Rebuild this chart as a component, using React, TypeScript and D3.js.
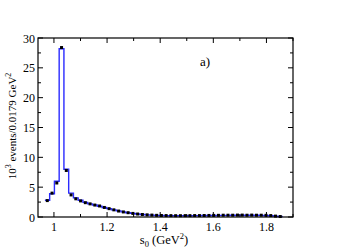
import React from "react";
import * as d3 from "d3";

// bin layout
const binStart = 0.966;
const binWidth = 0.0179;

// measured data (10^3 events per bin)
const dataValues = [
  2.75, 4.0, 5.7, 28.4, 7.8, 3.7, 3.05, 2.7, 2.4, 2.2,
  2.0, 1.85, 1.6, 1.4, 1.2, 1.0, 0.85, 0.72, 0.6, 0.5,
  0.42, 0.36, 0.32, 0.28, 0.25, 0.24, 0.23, 0.22, 0.22, 0.23,
  0.23, 0.24, 0.24, 0.25, 0.26, 0.27, 0.28, 0.3, 0.3, 0.3,
  0.32, 0.32, 0.3, 0.32, 0.3, 0.3, 0.28, 0.24, 0.15, 0.08,
];

// fitted histogram (blue)
const fitValues = [
  2.8, 3.9, 6.0, 28.2, 8.0, 4.0, 3.2, 2.8, 2.45, 2.2,
  2.0, 1.8, 1.6, 1.4, 1.2, 1.02, 0.86, 0.72, 0.6, 0.5,
  0.42, 0.36, 0.31, 0.27, 0.25, 0.23, 0.22, 0.22, 0.22, 0.22,
  0.22, 0.23, 0.23, 0.24, 0.25, 0.26, 0.27, 0.28, 0.28, 0.29,
  0.3, 0.3, 0.3, 0.3, 0.29, 0.28, 0.26, 0.22, 0.15, 0.08,
];

const xMajorTicks = [1, 1.2, 1.4, 1.6, 1.8];
const xMinorTicks = [1.1, 1.3, 1.5, 1.7, 1.9];
const yMajorTicks = [0, 5, 10, 15, 20, 25, 30];
const yMinorTicks = [2.5, 7.5, 12.5, 17.5, 22.5, 27.5];

const W = 351;
const H = 248;
const L = 38, R = 293, T = 38, B = 217;
const font = "'Liberation Serif', 'Times New Roman', serif";

export default function App() {
  const x = d3.scaleLinear().domain([0.94, 1.9]).range([L, R]);
  const y = d3.scaleLinear().domain([0, 30]).range([B, T]);

  const edges = fitValues.map((_, i) => binStart + i * binWidth);
  const pts: [number, number][] = fitValues.map((v, i) => [edges[i], v]);
  pts.push([binStart + fitValues.length * binWidth, fitValues[fitValues.length - 1]]);
  const line = d3
    .line<[number, number]>()
    .x((d) => x(d[0]))
    .y((d) => y(d[1]))
    .curve(d3.curveStepAfter);

  const majLen = 5, minLen = 3;

  return (
    <svg
      width={W}
      height={H}
      style={{ position: "absolute", left: 0, top: 0, background: "#fff" }}
      fontFamily={font}
    >
      <path d={line(pts) || ""} fill="none" stroke="#2b2bff" strokeWidth={1.4} />
      {dataValues.map((v, i) => {
        const cx = x(binStart + (i + 0.5) * binWidth);
        const cy = y(v);
        return <rect key={i} x={cx - 1.5} y={cy - 1.5} width={3} height={3} fill="#000" />;
      })}
      <rect x={L} y={T} width={R - L} height={B - T} fill="none" stroke="#000" strokeWidth={1.2} />
      {xMajorTicks.map((t) => (
        <g key={"xm" + t}>
          <line x1={x(t)} x2={x(t)} y1={B} y2={B - majLen} stroke="#000" />
          <line x1={x(t)} x2={x(t)} y1={T} y2={T + majLen} stroke="#000" />
          <text x={x(t)} y={231} fontSize={12} textAnchor="middle" fill="#000">
            {t === 1 ? "1" : t.toFixed(1)}
          </text>
        </g>
      ))}
      {xMinorTicks.map((t) => (
        <g key={"xn" + t}>
          <line x1={x(t)} x2={x(t)} y1={B} y2={B - minLen} stroke="#000" />
          <line x1={x(t)} x2={x(t)} y1={T} y2={T + minLen} stroke="#000" />
        </g>
      ))}
      {yMajorTicks.map((t) => (
        <g key={"ym" + t}>
          <line x1={L} x2={L + majLen} y1={y(t)} y2={y(t)} stroke="#000" />
          <line x1={R} x2={R - majLen} y1={y(t)} y2={y(t)} stroke="#000" />
          <text x={35} y={y(t) + 4.5} fontSize={12} textAnchor="end" fill="#000">
            {t}
          </text>
        </g>
      ))}
      {yMinorTicks.map((t) => (
        <g key={"yn" + t}>
          <line x1={L} x2={L + minLen} y1={y(t)} y2={y(t)} stroke="#000" />
          <line x1={R} x2={R - minLen} y1={y(t)} y2={y(t)} stroke="#000" />
        </g>
      ))}
      <text x={164} y={244} fontSize={12.5} textAnchor="middle" fill="#000">
        s<tspan fontSize={8.5} dy={3}>0</tspan>
        <tspan dy={-3}> (GeV</tspan>
        <tspan fontSize={8.5} dy={-5}>2</tspan>
        <tspan dy={5}>)</tspan>
      </text>
      <text
        transform={`translate(16,126) rotate(-90)`}
        fontSize={11}
        textAnchor="middle"
        fill="#000"
      >
        10<tspan fontSize={8} dy={-5}>3</tspan>
        <tspan dy={5}> events/0.0179 GeV</tspan>
        <tspan fontSize={8} dy={-5}>2</tspan>
      </text>
      <text x={200} y={66} fontSize={13} fill="#000">
        a)
      </text>
    </svg>
  );
}
